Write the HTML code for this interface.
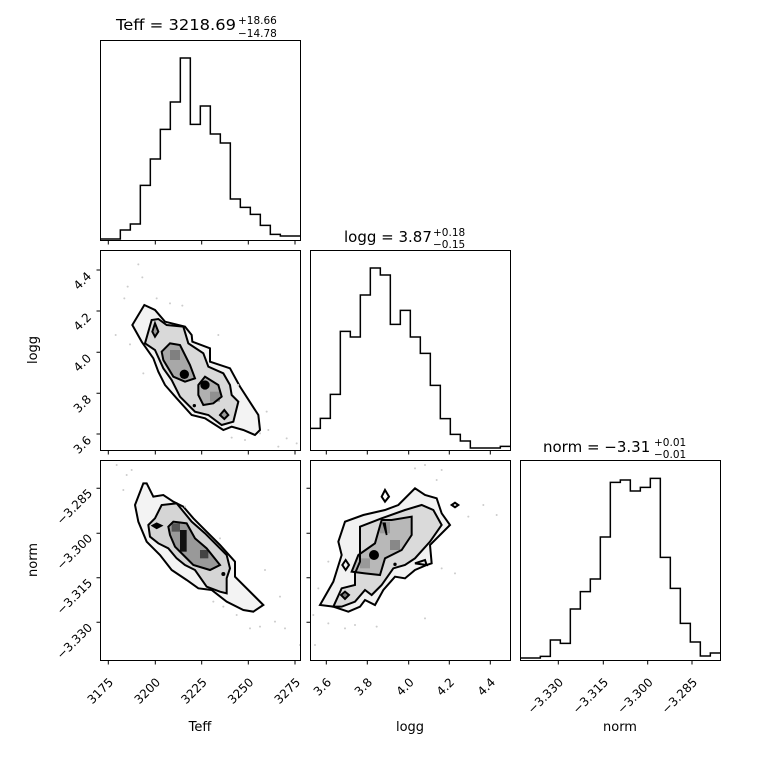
<!DOCTYPE html>
<html><head><meta charset="utf-8"><style>
html,body{margin:0;padding:0;background:#fff}
text{font-family:"DejaVu Sans","Liberation Sans",sans-serif;fill:#000}
</style></head><body>
<svg width="760" height="760" viewBox="0 0 760 760" xmlns="http://www.w3.org/2000/svg">
<defs>
<clipPath id="c1"><rect x="100" y="250" width="200" height="200"/></clipPath>
<clipPath id="c2"><rect x="100" y="460" width="200" height="200"/></clipPath>
<clipPath id="c3"><rect x="310" y="460" width="200" height="200"/></clipPath>
</defs>
<rect width="760" height="760" fill="#fff"/>

<g transform="translate(95,35) scale(0.33333)">
<path d="M16,612 H76 V585 H106 V567 H136 V451 H166 V372 H196 V283 H226 V201 H256 V69 H286 V268 H316 V213 H346 V297 H376 V324 H406 V492 H436 V517 H466 V538 H496 V571 H526 V598 H556 V603 H616" fill="none" stroke="#000" stroke-width="4.5"/>
</g>
<g transform="translate(305,245) scale(0.33333)">
<path d="M16,550 H46 V520 H76 V448 H106 V259 H136 V276 H166 V150 H196 V69 H226 V90 H256 V238 H286 V196 H316 V276 H346 V325 H376 V421 H406 V521 H436 V568 H466 V588 H496 V609 H586 V604 H616" fill="none" stroke="#000" stroke-width="4.5"/>
</g>
<g transform="translate(515,455) scale(0.33333)">
<path d="M16,609 H76 V604 H106 V555 H136 V565 H166 V462 H196 V410 H226 V372 H256 V246 H286 V82 H316 V75 H346 V108 H376 V97 H406 V70 H436 V307 H466 V400 H496 V505 H526 V561 H556 V603 H586 V594 H616" fill="none" stroke="#000" stroke-width="4.5"/>
</g>

<g clip-path="url(#c1)"><g transform="translate(95,245) scale(0.33333)">
<path d="M112,240 L148,180 L180,195 L210,230 L270,245 L290,270 L292,290 L345,310 L345,350 L405,370 L435,425 L490,510 L495,555 L480,570 L445,555 L410,545 L385,555 L330,520 L290,510 L245,460 L210,420 L190,380 L175,340 L140,290 Z" fill="#f3f3f3" stroke="none"/>
<path d="M150,295 L170,225 L190,222 L215,240 L265,245 L280,295 L325,325 L340,365 L385,385 L405,420 L410,450 L430,470 L415,530 L380,540 L340,510 L300,500 L255,455 L230,405 L205,370 L180,315 Z" fill="#d9d9d9"/>
<path d="M200,320 L225,295 L255,300 L285,360 L300,400 L270,410 L235,395 L205,345 Z" fill="#a8a8a8"/>
<path d="M310,420 L330,395 L370,420 L380,455 L355,475 L325,480 L310,450 Z" fill="#b0b0b0"/>
<rect x="225" y="315" width="30" height="30" fill="#808080"/>
<rect x="345" y="440" width="30" height="30" fill="#909090"/>
<path d="M112,240 L148,180 L180,195 L210,230 L270,245 L290,270 L292,290 L345,310 L345,350 L405,370 L435,425 L490,510 L495,555 L480,570 L445,555 L410,545 L385,555 L330,520 L290,510 L245,460 L210,420 L190,380 L175,340 L140,290 Z" fill="none" stroke="#000" stroke-width="6"/>
<path d="M150,295 L170,225 L190,222 L215,240 L265,245 L280,295 L325,325 L340,365 L385,385 L405,420 L410,450 L430,470 L415,530 L380,540 L340,510 L300,500 L255,455 L230,405 L205,370 L180,315 Z" fill="none" stroke="#000" stroke-width="6"/>
<path d="M200,320 L225,295 L255,300 L285,360 L300,400 L270,410 L235,395 L205,345 Z" fill="none" stroke="#000" stroke-width="6"/>
<path d="M310,420 L330,395 L370,420 L380,455 L355,475 L325,480 L310,450 Z" fill="none" stroke="#000" stroke-width="6"/>
<path d="M172,260 L180,235 L190,260 L180,275 Z" fill="#999" stroke="#000" stroke-width="6"/>
<path d="M375,510 L388,495 L400,510 L388,522 Z" fill="#999" stroke="#000" stroke-width="6"/>
<circle cx="268" cy="388" r="14" fill="#000"/>
<circle cx="330" cy="420" r="14" fill="#000"/>
<circle cx="298" cy="482" r="5" fill="#000"/>
<g fill="#ccc"><circle cx="130" cy="58" r="3"/><circle cx="142" cy="97" r="3"/><circle cx="98" cy="125" r="3"/><circle cx="88" cy="160" r="3"/><circle cx="185" cy="160" r="3"/><circle cx="262" cy="182" r="3"/><circle cx="62" cy="270" r="3"/><circle cx="105" cy="298" r="3"/><circle cx="370" cy="270" r="3"/><circle cx="430" cy="420" r="3"/><circle cx="515" cy="500" r="3"/><circle cx="520" cy="555" r="3"/><circle cx="550" cy="605" r="3"/><circle cx="575" cy="580" r="3"/><circle cx="605" cy="595" r="3"/><circle cx="410" cy="578" r="3"/><circle cx="450" cy="585" r="3"/><circle cx="495" cy="565" r="3"/><circle cx="145" cy="385" r="3"/><circle cx="225" cy="175" r="3"/></g>
</g></g>

<g clip-path="url(#c2)"><g transform="translate(20,455) scale(0.33333)">
<path d="M345,150 L370,85 L380,85 L400,125 L430,120 L460,140 L490,155 L520,190 L560,230 L600,270 L645,320 L645,365 L700,420 L730,450 L700,470 L670,465 L620,440 L575,405 L535,400 L500,375 L455,345 L420,300 L380,260 L355,200 Z" fill="#f3f3f3"/>
<path d="M385,210 L405,190 L425,150 L470,145 L515,200 L555,235 L620,300 L630,340 L620,370 L620,415 L600,410 L560,395 L525,345 L495,330 L470,310 L445,280 L415,265 L390,245 Z" fill="#d5d5d5"/>
<path d="M445,215 L460,200 L500,205 L525,250 L560,280 L600,330 L570,345 L520,330 L490,300 L465,275 L450,240 Z" fill="#999"/>
<rect x="480" y="225" width="20" height="65" fill="#111"/>
<rect x="540" y="285" width="25" height="25" fill="#444"/>
<rect x="455" y="205" width="25" height="25" fill="#555"/>
<path d="M345,150 L370,85 L380,85 L400,125 L430,120 L460,140 L490,155 L520,190 L560,230 L600,270 L645,320 L645,365 L700,420 L730,450 L700,470 L670,465 L620,440 L575,405 L535,400 L500,375 L455,345 L420,300 L380,260 L355,200 Z" fill="none" stroke="#000" stroke-width="6"/>
<path d="M385,210 L405,190 L425,150 L470,145 L515,200 L555,235 L620,300 L630,340 L620,370 L620,415 L600,410 L560,395 L525,345 L495,330 L470,310 L445,280 L415,265 L390,245 Z" fill="none" stroke="#000" stroke-width="6"/>
<path d="M445,215 L460,200 L500,205 L525,250 L560,280 L600,330 L570,345 L520,330 L490,300 L465,275 L450,240 Z" fill="none" stroke="#000" stroke-width="6"/>
<path d="M397,212 L410,205 L425,212 L410,220 Z" fill="#000" stroke="#000" stroke-width="5"/>
<circle cx="610" cy="357" r="6" fill="#000"/>
<g fill="#ccc"><circle cx="290" cy="30" r="3"/><circle cx="335" cy="45" r="3"/><circle cx="320" cy="60" r="3"/><circle cx="310" cy="105" r="3"/><circle cx="495" cy="155" r="3"/><circle cx="600" cy="250" r="3"/><circle cx="735" cy="345" r="3"/><circle cx="780" cy="425" r="3"/><circle cx="795" cy="520" r="3"/><circle cx="765" cy="500" r="3"/><circle cx="690" cy="520" r="3"/><circle cx="720" cy="515" r="3"/><circle cx="840" cy="570" r="3"/><circle cx="580" cy="440" r="3"/><circle cx="610" cy="455" r="3"/><circle cx="650" cy="480" r="3"/></g>
</g></g>

<g clip-path="url(#c3)"><g transform="translate(305,455) scale(0.33333)">
<path d="M45,450 L85,380 L110,300 L100,260 L120,200 L175,180 L240,165 L280,150 L330,100 L360,120 L395,130 L410,175 L435,210 L375,270 L380,325 L365,330 L330,345 L300,370 L270,365 L235,405 L210,450 L180,435 L165,455 L130,470 L85,455 Z" fill="#f2f2f2"/>
<path d="M85,455 L110,400 L150,390 L150,355 L165,320 L165,270 L165,215 L230,190 L300,165 L350,150 L385,165 L410,210 L375,260 L330,310 L300,330 L265,340 L230,390 L200,420 L180,405 L150,440 L110,455 Z" fill="#dadada"/>
<path d="M140,350 L160,300 L210,265 L230,195 L260,195 L320,185 L320,240 L290,285 L240,310 L225,360 L180,355 Z" fill="#b8b8b8"/>
<rect x="255" y="255" width="30" height="30" fill="#888"/>
<rect x="225" y="200" width="30" height="35" fill="#999"/>
<rect x="165" y="310" width="30" height="30" fill="#999"/>
<path d="M45,450 L85,380 L110,300 L100,260 L120,200 L175,180 L240,165 L280,150 L330,100 L360,120 L395,130 L410,175 L435,210 L375,270 L380,325 L365,330 L330,345 L300,370 L270,365 L235,405 L210,450 L180,435 L165,455 L130,470 L85,455 Z" fill="none" stroke="#000" stroke-width="6"/>
<path d="M85,455 L110,400 L150,390 L150,355 L165,320 L165,270 L165,215 L230,190 L300,165 L350,150 L385,165 L410,210 L375,260 L330,310 L300,330 L265,340 L230,390 L200,420 L180,405 L150,440 L110,455 Z" fill="none" stroke="#000" stroke-width="6"/>
<path d="M140,350 L160,300 L210,265 L230,195 L260,195 L320,185 L320,240 L290,285 L240,310 L225,360 L180,355 Z" fill="none" stroke="#000" stroke-width="6"/>
<circle cx="207" cy="300" r="15" fill="#000"/>
<path d="M230,125 L240,105 L252,125 L240,140 Z" fill="none" stroke="#000" stroke-width="6"/>
<path d="M440,150 L450,143 L460,150 L450,157 Z" fill="none" stroke="#000" stroke-width="6"/>
<path d="M112,330 L122,315 L132,330 L122,345 Z" fill="none" stroke="#000" stroke-width="6"/>
<path d="M108,420 L120,410 L132,420 L120,432 Z" fill="#777" stroke="#000" stroke-width="6"/>
<path d="M330,325 L360,315 L365,330 Z" fill="none" stroke="#000" stroke-width="6"/>
<path d="M240,205 L245,240 L235,205 Z" fill="#000" stroke="#000" stroke-width="5"/>
<circle cx="270" cy="328" r="5" fill="#000"/>
<g fill="#ccc"><circle cx="330" cy="40" r="3"/><circle cx="360" cy="30" r="3"/><circle cx="410" cy="45" r="3"/><circle cx="395" cy="75" r="3"/><circle cx="575" cy="180" r="3"/><circle cx="535" cy="150" r="3"/><circle cx="490" cy="185" r="3"/><circle cx="40" cy="400" r="3"/><circle cx="30" cy="570" r="3"/><circle cx="70" cy="505" r="3"/><circle cx="120" cy="520" r="3"/><circle cx="150" cy="510" r="3"/><circle cx="215" cy="515" r="3"/><circle cx="360" cy="490" r="3"/><circle cx="450" cy="355" r="3"/><circle cx="410" cy="340" r="3"/><circle cx="70" cy="320" r="3"/><circle cx="25" cy="480" r="3"/></g>
</g></g>

<g fill="none" stroke="#000" stroke-width="1">
<rect x="100.5" y="40.5" width="200" height="200"/>
<rect x="100.5" y="250.5" width="200" height="200"/>
<rect x="310.5" y="250.5" width="200" height="200"/>
<rect x="100.5" y="460.5" width="200" height="200"/>
<rect x="310.5" y="460.5" width="200" height="200"/>
<rect x="520.5" y="460.5" width="200" height="200"/>
</g>

<g stroke="#000" stroke-width="1">
<path d="M108.3,241 v3.5 M155.3,241 v3.5 M201.7,241 v3.5 M248.3,241 v3.5 M295,241 v3.5
M108.3,451 v3.5 M155.3,451 v3.5 M201.7,451 v3.5 M248.3,451 v3.5 M295,451 v3.5
M108.3,661 v3.5 M155.3,661 v3.5 M201.7,661 v3.5 M248.3,661 v3.5 M295,661 v3.5"/>
<path d="M326.3,451 v3.5 M367.3,451 v3.5 M408.7,451 v3.5 M449.3,451 v3.5 M490.3,451 v3.5
M326.3,661 v3.5 M367.3,661 v3.5 M408.7,661 v3.5 M449.3,661 v3.5 M490.3,661 v3.5"/>
<path d="M558.3,661 v3.5 M603.3,661 v3.5 M647.7,661 v3.5 M692,661 v3.5"/>
<path d="M100,270 h-3.5 M100,311 h-3.5 M100,352.3 h-3.5 M100,393.3 h-3.5 M100,434 h-3.5"/>
<path d="M100,488.3 h-3.5 M100,533.3 h-3.5 M100,577.7 h-3.5 M100,622.3 h-3.5
M310,488.3 h-3.5 M310,533.3 h-3.5 M310,577.7 h-3.5 M310,622.3 h-3.5"/>
</g>

<text x="116" y="30" font-size="15" textLength="120" lengthAdjust="spacingAndGlyphs">Teff = 3218.69</text>
<text x="238" y="24" font-size="10.5">+18.66</text>
<text x="238" y="37" font-size="10.5">−14.78</text>
<text x="344" y="242" font-size="15">logg = 3.87</text>
<text x="433" y="236" font-size="10.5">+0.18</text>
<text x="433" y="248" font-size="10.5">−0.15</text>
<text x="543" y="452" font-size="15">norm = −3.31</text>
<text x="654" y="446" font-size="10.5">+0.01</text>
<text x="654" y="458" font-size="10.5">−0.01</text>

<g font-size="12" text-anchor="end">
<text transform="translate(114,683) rotate(-45)">3175</text>
<text transform="translate(161,683) rotate(-45)">3200</text>
<text transform="translate(207.7,683) rotate(-45)">3225</text>
<text transform="translate(254.3,683) rotate(-45)">3250</text>
<text transform="translate(301,683) rotate(-45)">3275</text>
<text transform="translate(332,683) rotate(-45)">3.6</text>
<text transform="translate(373,683) rotate(-45)">3.8</text>
<text transform="translate(414.7,683) rotate(-45)">4.0</text>
<text transform="translate(455,683) rotate(-45)">4.2</text>
<text transform="translate(496,683) rotate(-45)">4.4</text>
<text transform="translate(564,683) rotate(-45)">−3.330</text>
<text transform="translate(609,683) rotate(-45)">−3.315</text>
<text transform="translate(653.7,683) rotate(-45)">−3.300</text>
<text transform="translate(698,683) rotate(-45)">−3.285</text>
<text transform="translate(92,277) rotate(-45)">4.4</text>
<text transform="translate(92,318) rotate(-45)">4.2</text>
<text transform="translate(92,359) rotate(-45)">4.0</text>
<text transform="translate(92,400) rotate(-45)">3.8</text>
<text transform="translate(92,441) rotate(-45)">3.6</text>
<text transform="translate(93,494) rotate(-45)">−3.285</text>
<text transform="translate(93,539) rotate(-45)">−3.300</text>
<text transform="translate(93,583.7) rotate(-45)">−3.315</text>
<text transform="translate(93,628.3) rotate(-45)">−3.330</text>
</g>

<g font-size="13" text-anchor="middle">
<text x="200" y="731">Teff</text>
<text x="410" y="731">logg</text>
<text x="620" y="731">norm</text>
<text transform="translate(37,350) rotate(-90)">logg</text>
<text transform="translate(37,560) rotate(-90)">norm</text>
</g>
</svg>
</body></html>
